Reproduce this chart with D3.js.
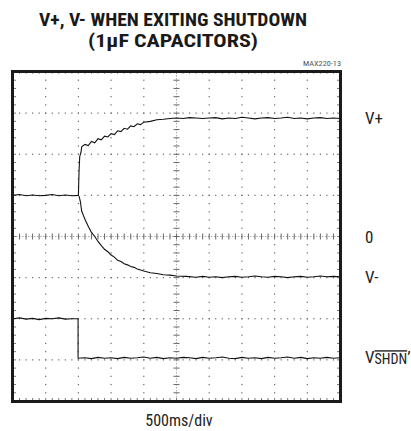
<!DOCTYPE html>
<html>
<head>
<meta charset="utf-8">
<script src="https://cdn.jsdelivr.net/npm/d3@7"></script>
<style>
  html, body { margin: 0; padding: 0; background: #fff; }
  svg { display: block; }
</style>
</head>
<body>
<div id="scope_chart"></div>
<script>
// trace values, x in divisions (0..10), y in divisions from center (-4..4)
var vPlusX = [0, 0.2, 0.4, 0.6, 0.8, 1.0, 1.2, 1.4, 1.6, 1.8, 2.0, 2.02, 2.04, 2.08, 2.1,
  2.2, 2.3, 2.4, 2.5, 2.6, 2.7, 2.8, 2.9, 3.0, 3.1, 3.2, 3.3, 3.4, 3.5, 3.6, 3.7, 3.8, 3.9,
  4.0, 4.2, 4.4, 4.6, 4.8, 5.0, 5.2, 5.4, 5.6, 5.8, 6.0, 6.2, 6.4, 6.6, 6.8, 7.0, 7.2, 7.4,
  7.6, 7.8, 8.0, 8.2, 8.4, 8.6, 8.8, 9.0, 9.2, 9.4, 9.6, 9.8, 10.0];
var vPlusY = [1.00, 1.02, 0.99, 1.01, 0.99, 1.00, 1.02, 0.99, 1.01, 0.99, 1.00, 1.60, 1.94, 2.05, 2.18,
  2.24, 2.21, 2.31, 2.28, 2.38, 2.35, 2.44, 2.42, 2.50, 2.48, 2.57, 2.55, 2.63, 2.61, 2.69, 2.67, 2.74, 2.72,
  2.78, 2.80, 2.84, 2.85, 2.87, 2.88, 2.87, 2.89, 2.88, 2.87, 2.88, 2.89, 2.86, 2.88, 2.87, 2.90, 2.88, 2.86,
  2.88, 2.89, 2.87, 2.88, 2.90, 2.87, 2.88, 2.86, 2.88, 2.89, 2.87, 2.88, 2.87];

var vMinusX = [2.02, 2.06, 2.1, 2.15, 2.2, 2.3, 2.4, 2.5, 2.6, 2.7, 2.8, 2.9, 3.0, 3.1, 3.2, 3.3,
  3.4, 3.5, 3.6, 3.7, 3.8, 4.0, 4.2, 4.4, 4.6, 4.8, 5.0, 5.3, 5.6, 5.8, 6.0, 6.2, 6.4, 6.6, 6.8,
  7.0, 7.2, 7.4, 7.6, 7.8, 8.0, 8.2, 8.4, 8.6, 8.8, 9.0, 9.2, 9.4, 9.6, 9.8, 10.0];
var vMinusY = [0.98, 0.85, 0.62, 0.52, 0.42, 0.25, 0.10, 0.00, -0.12, -0.22, -0.31, -0.37, -0.45, -0.50, -0.58, -0.61,
  -0.66, -0.69, -0.73, -0.75, -0.79, -0.84, -0.88, -0.90, -0.93, -0.94, -0.96, -0.97, -0.99, -0.97, -0.99, -0.98, -1.00, -0.98, -0.97,
  -0.99, -0.98, -0.96, -0.98, -0.99, -0.97, -0.98, -1.00, -0.98, -0.97, -0.99, -0.98, -0.96, -0.98, -0.97, -0.98];

var vShdnX = [0, 0.2, 0.4, 0.6, 0.8, 1.0, 1.2, 1.4, 1.6, 1.8, 1.99, 1.99, 2.2, 2.4, 2.6, 2.8, 3.0,
  3.2, 3.4, 3.6, 3.8, 4.0, 4.2, 4.4, 4.6, 4.8, 5.0, 5.2, 5.4, 5.6, 5.8, 6.0, 6.2, 6.4, 6.6, 6.8,
  7.0, 7.2, 7.4, 7.6, 7.8, 8.0, 8.2, 8.4, 8.6, 8.8, 9.0, 9.2, 9.4, 9.6, 9.8, 10.0];
var vShdnY = [-2.00, -1.98, -2.01, -1.99, -2.02, -1.99, -2.00, -1.98, -2.01, -2.00, -2.00, -2.96, -2.95, -2.97, -2.94, -2.96, -2.95,
  -2.97, -2.94, -2.96, -2.95, -2.93, -2.96, -2.94, -2.97, -2.95, -2.96, -2.94, -2.95, -2.97, -2.94, -2.96, -2.95, -2.93, -2.96, -2.97,
  -2.94, -2.96, -2.95, -2.97, -2.94, -2.96, -2.95, -2.93, -2.96, -2.94, -2.97, -2.95, -2.96, -2.94, -2.96, -2.95];

var traceLabels = ['V+', '0', 'V-'];
var traceLabelY = [2.88, 0, -0.98];

var titleLines = ['V+, V- WHEN EXITING SHUTDOWN', '(1\u00b5F CAPACITORS)'];
var figureCode = 'MAX220-13';
var timebase = '500ms/div';

var xDivs = 10, yDivs = 8, minorPerDiv = 5;

var x0 = 13, x1 = 340, y0 = 72, y1 = 401;

var svg = d3.select('#scope_chart')
  .append('svg')
  .attr('width', 411)
  .attr('height', 431);

var x = d3.scaleLinear().domain([0, xDivs]).range([x0, x1]);
var y = d3.scaleLinear().domain([-yDivs / 2, yDivs / 2]).range([y1, y0]);

var condensed = '"Liberation Sans Narrow", "Roboto Condensed", "DejaVu Sans Condensed", "Liberation Sans", sans-serif';

// title
svg.selectAll('.title')
  .data(titleLines)
  .enter()
  .append('text')
  .attr('class', 'title')
  .attr('x', 173)
  .attr('y', function (d, i) { return 26 + i * 21; })
  .attr('text-anchor', 'middle')
  .attr('textLength', function (d, i) { return i === 0 ? 268 : 170; })
  .attr('lengthAdjust', 'spacingAndGlyphs')
  .style('font-family', condensed)
  .style('font-weight', 'bold')
  .style('font-size', '18px')
  .style('fill', '#1a1a1a')
  .text(function (d) { return d; });

svg.append('text')
  .attr('x', 341)
  .attr('y', 66)
  .attr('text-anchor', 'end')
  .attr('textLength', 38)
  .attr('lengthAdjust', 'spacingAndGlyphs')
  .style('font-family', condensed)
  .style('font-size', '8px')
  .style('fill', '#555')
  .text(figureCode);

// grid dots
var grid = svg.append('g').attr('class', 'grid');
var minorX = d3.range(0, xDivs * minorPerDiv + 1).map(function (i) { return i / minorPerDiv; });
var minorY = d3.range(0, yDivs * minorPerDiv + 1).map(function (i) { return -yDivs / 2 + i / minorPerDiv; });

d3.range(1, xDivs).filter(function (i) { return i !== xDivs / 2; }).forEach(function (i) {
  grid.selectAll(null)
    .data(minorY.slice(1, -1))
    .enter()
    .append('rect')
    .attr('x', x(i) - 0.6)
    .attr('y', function (d) { return y(d) - 0.6; })
    .attr('width', 1.2)
    .attr('height', 1.2)
    .style('fill', '#666');
});

d3.range(-yDivs / 2 + 1, yDivs / 2).filter(function (j) { return j !== 0; }).forEach(function (j) {
  grid.selectAll(null)
    .data(minorX.slice(1, -1))
    .enter()
    .append('rect')
    .attr('x', function (d) { return x(d) - 0.6; })
    .attr('y', y(j) - 0.6)
    .attr('width', 1.2)
    .attr('height', 1.2)
    .style('fill', '#666');
});

// center axes with minor ticks
grid.append('line')
  .attr('x1', x0).attr('x2', x1)
  .attr('y1', y(0)).attr('y2', y(0))
  .style('stroke', '#999')
  .style('stroke-width', 0.8)
  .style('stroke-dasharray', '1.5,1.5');
grid.append('line')
  .attr('x1', x(xDivs / 2)).attr('x2', x(xDivs / 2))
  .attr('y1', y0).attr('y2', y1)
  .style('stroke', '#999')
  .style('stroke-width', 0.8)
  .style('stroke-dasharray', '1.5,1.5');

grid.selectAll('.xtick')
  .data(minorX.slice(1, -1))
  .enter()
  .append('line')
  .attr('x1', function (d) { return x(d); })
  .attr('x2', function (d) { return x(d); })
  .attr('y1', y(0) - 3).attr('y2', y(0) + 3)
  .style('stroke', '#666')
  .style('stroke-width', 1);

grid.selectAll('.ytick')
  .data(minorY.slice(1, -1))
  .enter()
  .append('line')
  .attr('x1', x(xDivs / 2) - 3).attr('x2', x(xDivs / 2) + 3)
  .attr('y1', function (d) { return y(d); })
  .attr('y2', function (d) { return y(d); })
  .style('stroke', '#666')
  .style('stroke-width', 1);

// edge ticks
grid.selectAll('.btick')
  .data(minorX.slice(1, -1))
  .enter()
  .append('line')
  .attr('x1', function (d) { return x(d); })
  .attr('x2', function (d) { return x(d); })
  .attr('y1', y1 - 3).attr('y2', y1)
  .style('stroke', '#777')
  .style('stroke-width', 1);
grid.selectAll('.ttick')
  .data(minorX.slice(1, -1))
  .enter()
  .append('line')
  .attr('x1', function (d) { return x(d); })
  .attr('x2', function (d) { return x(d); })
  .attr('y1', y0).attr('y2', y0 + 2)
  .style('stroke', '#999')
  .style('stroke-width', 1);
grid.selectAll('.ltick')
  .data(minorY.slice(1, -1))
  .enter()
  .append('line')
  .attr('x1', x0).attr('x2', x0 + 3)
  .attr('y1', function (d) { return y(d); })
  .attr('y2', function (d) { return y(d); })
  .style('stroke', '#777')
  .style('stroke-width', 1);
grid.selectAll('.rtick')
  .data(minorY.slice(1, -1))
  .enter()
  .append('line')
  .attr('x1', x1 - 3).attr('x2', x1)
  .attr('y1', function (d) { return y(d); })
  .attr('y2', function (d) { return y(d); })
  .style('stroke', '#777')
  .style('stroke-width', 1);

// traces
var line = d3.line()
  .x(function (d) { return x(d[0]); })
  .y(function (d) { return y(d[1]); });

var traces = [
  d3.zip(vPlusX, vPlusY),
  d3.zip(vMinusX, vMinusY),
  d3.zip(vShdnX, vShdnY)
];

svg.append('g')
  .selectAll('path')
  .data(traces)
  .enter()
  .append('path')
  .attr('d', function (d) { return line(d); })
  .style('fill', 'none')
  .style('stroke', '#111')
  .style('stroke-width', 1.1);

// frame
svg.append('rect')
  .attr('x', x0 - 0.5)
  .attr('y', y0 - 0.5)
  .attr('width', x1 - x0 + 1)
  .attr('height', y1 - y0 + 1)
  .style('fill', 'none')
  .style('stroke', '#1a1a1a')
  .style('stroke-width', 3);

// right side labels
svg.selectAll('.tlabel')
  .data(traceLabels)
  .enter()
  .append('text')
  .attr('class', 'tlabel')
  .attr('x', 365)
  .attr('y', function (d, i) { return y(traceLabelY[i]) + 6; })
  .style('font-family', condensed)
  .style('font-size', '17px')
  .style('fill', '#222')
  .text(function (d) { return d; });

var shdn = svg.append('text')
  .attr('x', 365)
  .attr('y', y(-2.96) + 5)
  .style('font-family', condensed)
  .style('font-size', '17px')
  .style('fill', '#222');
shdn.append('tspan').text('V');
shdn.append('tspan')
  .attr('dy', 1)
  .style('font-size', '14px')
  .style('text-decoration', 'overline')
  .text('SHDN');
shdn.append('tspan')
  .attr('dy', -1)
  .text('\u2019');

svg.append('text')
  .attr('x', 179)
  .attr('y', 426)
  .attr('text-anchor', 'middle')
  .style('font-family', condensed)
  .style('font-size', '16px')
  .style('fill', '#222')
  .text(timebase);
</script>
</body>
</html>
